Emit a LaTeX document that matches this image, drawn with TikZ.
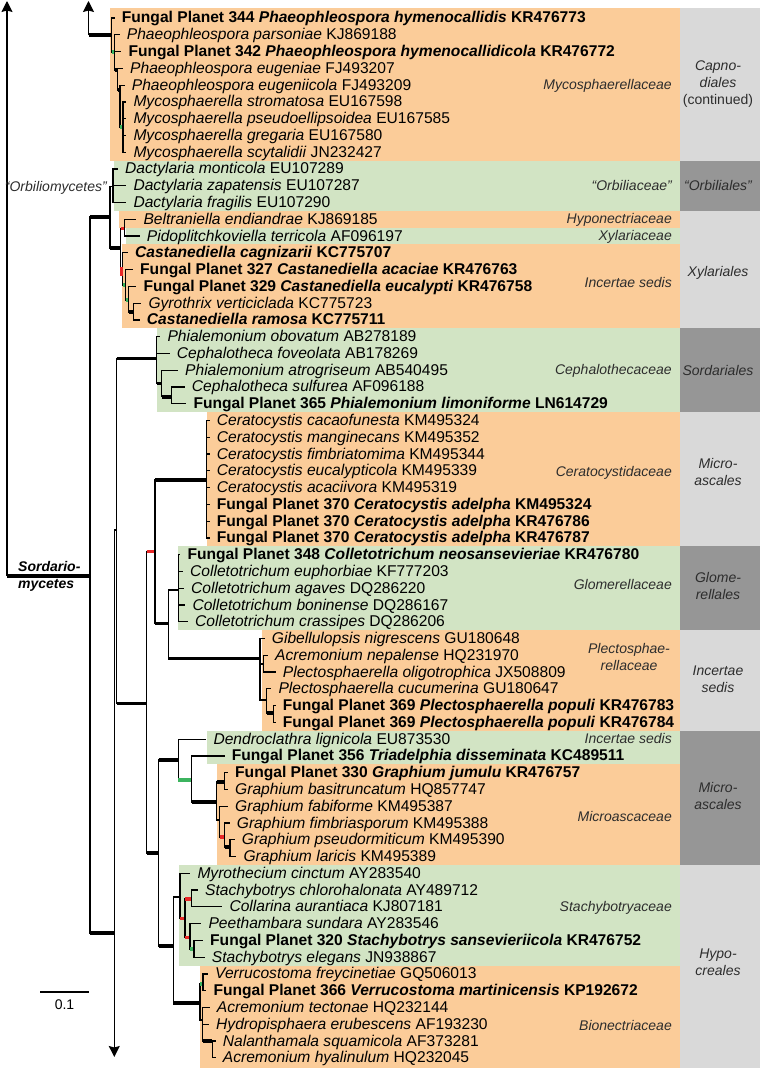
\documentclass[tikz,border=0pt]{standalone}
\usepackage{fontspec}
\setmainfont{Liberation Sans}
\usetikzlibrary{arrows.meta}
\definecolor{orbox}{RGB}{251,204,153}
\definecolor{grbox}{RGB}{210,228,196}
\definecolor{lgrey}{RGB}{217,217,217}
\definecolor{dgrey}{RGB}{150,150,150}
\definecolor{lab}{RGB}{45,45,45}
\definecolor{supred}{RGB}{232,40,40}
\definecolor{supgreen}{RGB}{60,180,95}
\newcommand\spc[2]{\textit{#1} #2}
\newcommand\fp[3]{\textbf{Fungal Planet #1 \textit{#2} #3}}
\newcommand\bi[2]{\textbf{\textit{#1} #2}}
\newcommand\brn[3][br]{\draw[br] (#2) |- (#3); \draw[#1] (#2|-#3) -- (#3);}
\newcommand\tp[2]{\draw[br] (#1) |- ([xshift=-7pt]#2.west);}
\begin{document}
\begin{tikzpicture}[x=1pt,y=-1pt,
 br/.style={line width=1.2pt},
 thk/.style={line width=3.6pt},
 thkred/.style={line width=3.6pt,draw=supred},
 thkgrn/.style={line width=3.6pt,draw=supgreen},
 tipl/.style={anchor=west,inner sep=0pt,font=\fontsize{15.6}{17}\selectfont,text height=12pt,text depth=2pt},
 fam/.style={anchor=east,inner sep=0pt,font=\fontsize{14}{16.7}\selectfont\itshape,text=lab,text height=11pt,text depth=2pt},
 famc/.style={inner sep=0pt,align=center,font=\fontsize{14}{16.7}\selectfont\itshape,text=lab},
 arr/.style={line width=1.2pt,-{Stealth[length=11pt,width=11pt,inset=1.5pt]}}]
\useasboundingbox (0,0) rectangle (760,1068);
% ---------- coloured backgrounds
\fill[orbox] (110,8) rectangle (680,160.6);
\fill[grbox] (114.3,160.6) rectangle (680,210.9);
\fill[orbox] (119,210.9) rectangle (680,227.6);
\fill[grbox] (126,227.6) rectangle (680,244.4);
\fill[orbox] (121.7,244.4) rectangle (680,328.3);
\fill[grbox] (156.7,328.3) rectangle (680,412.1);
\fill[orbox] (206.7,412.1) rectangle (680,546.3);
\fill[grbox] (178.3,546.3) rectangle (680,630.1);
\fill[orbox] (261.7,630.1) rectangle (680,730.7);
\fill[grbox] (206.7,730.7) rectangle (680,764.3);
\fill[orbox] (216.7,764.3) rectangle (680,864.9);
\fill[grbox] (179.3,864.9) rectangle (680,965.5);
\fill[orbox] (200,965.5) rectangle (680,1068);
\fill[lgrey] (680,8) rectangle (760,160.6);
\fill[dgrey] (680,160.6) rectangle (760,210.9);
\fill[lgrey] (680,210.9) rectangle (760,328.3);
\fill[dgrey] (680,328.3) rectangle (760,412.1);
\fill[lgrey] (680,412.1) rectangle (760,546.3);
\fill[dgrey] (680,546.3) rectangle (760,630.1);
\fill[lgrey] (680,630.1) rectangle (760,730.7);
\fill[dgrey] (680,730.7) rectangle (760,864.9);
\fill[lgrey] (680,864.9) rectangle (760,1068);
% ---------- tip labels
\node[tipl] (t1) at (121.7,18.0) {\fp{344}{Phaeophleospora hymenocallidis}{KR476773}};
\node[tipl] (t2) at (126.7,34.8) {\spc{Phaeophleospora parsoniae}{KJ869188}};
\node[tipl] (t3) at (128.3,51.5) {\fp{342}{Phaeophleospora hymenocallidicola}{KR476772}};
\node[tipl] (t4) at (130,68.3) {\spc{Phaeophleospora eugeniae}{FJ493207}};
\node[tipl] (t5) at (131.7,85.1) {\spc{Phaeophleospora eugeniicola}{FJ493209}};
\node[tipl] (t6) at (133.3,101.9) {\spc{Mycosphaerella stromatosa}{EU167598}};
\node[tipl] (t7) at (133.3,118.6) {\spc{Mycosphaerella pseudoellipsoidea}{EU167585}};
\node[tipl] (t8) at (133.3,135.4) {\spc{Mycosphaerella gregaria}{EU167580}};
\node[tipl] (t9) at (133.3,152.2) {\spc{Mycosphaerella scytalidii}{JN232427}};
\node[tipl] (t10) at (125,168.9) {\spc{Dactylaria monticola}{EU107289}};
\node[tipl] (t11) at (133.3,185.7) {\spc{Dactylaria zapatensis}{EU107287}};
\node[tipl] (t12) at (133.3,202.5) {\spc{Dactylaria fragilis}{EU107290}};
\node[tipl] (t13) at (143.3,219.2) {\spc{Beltraniella endiandrae}{KJ869185}};
\node[tipl] (t14) at (146.7,236.0) {\spc{Pidoplitchkoviella terricola}{AF096197}};
\node[tipl] (t15) at (135,252.8) {\bi{Castanediella cagnizarii}{KC775707}};
\node[tipl] (t16) at (140,269.6) {\fp{327}{Castanediella acaciae}{KR476763}};
\node[tipl] (t17) at (143.3,286.3) {\fp{329}{Castanediella eucalypti}{KR476758}};
\node[tipl] (t18) at (148.3,303.1) {\spc{Gyrothrix verticiclada}{KC775723}};
\node[tipl] (t19) at (146.7,319.9) {\bi{Castanediella ramosa}{KC775711}};
\node[tipl] (t20) at (167.3,336.6) {\spc{Phialemonium obovatum}{AB278189}};
\node[tipl] (t21) at (176.7,353.4) {\spc{Cephalotheca foveolata}{AB178269}};
\node[tipl] (t22) at (185,370.2) {\spc{Phialemonium atrogriseum}{AB540495}};
\node[tipl] (t23) at (191.7,386.9) {\spc{Cephalotheca sulfurea}{AF096188}};
\node[tipl] (t24) at (193.3,403.7) {\fp{365}{Phialemonium limoniforme}{LN614729}};
\node[tipl] (t25) at (216.7,420.5) {\spc{Ceratocystis cacaofunesta}{KM495324}};
\node[tipl] (t26) at (216.7,437.3) {\spc{Ceratocystis manginecans}{KM495352}};
\node[tipl] (t27) at (216.7,454.0) {\spc{Ceratocystis fimbriatomima}{KM495344}};
\node[tipl] (t28) at (216.7,470.8) {\spc{Ceratocystis eucalypticola}{KM495339}};
\node[tipl] (t29) at (216.7,487.6) {\spc{Ceratocystis acaciivora}{KM495319}};
\node[tipl] (t30) at (216.7,504.3) {\fp{370}{Ceratocystis adelpha}{KM495324}};
\node[tipl] (t31) at (216.7,521.1) {\fp{370}{Ceratocystis adelpha}{KR476786}};
\node[tipl] (t32) at (216.7,537.9) {\fp{370}{Ceratocystis adelpha}{KR476787}};
\node[tipl] (t33) at (187.3,554.6) {\fp{348}{Colletotrichum neosansevieriae}{KR476780}};
\node[tipl] (t34) at (190,571.4) {\spc{Colletotrichum euphorbiae}{KF777203}};
\node[tipl] (t35) at (191,588.2) {\spc{Colletotrichum agaves}{DQ286220}};
\node[tipl] (t36) at (192.3,605.0) {\spc{Colletotrichum boninense}{DQ286167}};
\node[tipl] (t37) at (195,621.7) {\spc{Colletotrichum crassipes}{DQ286206}};
\node[tipl] (t38) at (271.7,638.5) {\spc{Gibellulopsis nigrescens}{GU180648}};
\node[tipl] (t39) at (275,655.3) {\spc{Acremonium nepalense}{HQ231970}};
\node[tipl] (t40) at (282.7,672.0) {\spc{Plectosphaerella oligotrophica}{JX508809}};
\node[tipl] (t41) at (278.3,688.8) {\spc{Plectosphaerella cucumerina}{GU180647}};
\node[tipl] (t42) at (282.7,705.6) {\fp{369}{Plectosphaerella populi}{KR476783}};
\node[tipl] (t43) at (282.7,722.3) {\fp{369}{Plectosphaerella populi}{KR476784}};
\node[tipl] (t44) at (213.3,739.1) {\spc{Dendroclathra lignicola}{EU873530}};
\node[tipl] (t45) at (231.7,755.9) {\fp{356}{Triadelphia disseminata}{KC489511}};
\node[tipl] (t46) at (235,772.7) {\fp{330}{Graphium jumulu}{KR476757}};
\node[tipl] (t47) at (235,789.4) {\spc{Graphium basitruncatum}{HQ857747}};
\node[tipl] (t48) at (235,806.2) {\spc{Graphium fabiforme}{KM495387}};
\node[tipl] (t49) at (236.7,823.0) {\spc{Graphium fimbriasporum}{KM495388}};
\node[tipl] (t50) at (241.7,839.7) {\spc{Graphium pseudormiticum}{KM495390}};
\node[tipl] (t51) at (243.3,856.5) {\spc{Graphium laricis}{KM495389}};
\node[tipl] (t52) at (197.3,873.3) {\spc{Myrothecium cinctum}{AY283540}};
\node[tipl] (t53) at (205,890.0) {\spc{Stachybotrys chlorohalonata}{AY489712}};
\node[tipl] (t54) at (229.3,906.8) {\spc{Collarina aurantiaca}{KJ807181}};
\node[tipl] (t55) at (208.3,923.6) {\spc{Peethambara sundara}{AY283546}};
\node[tipl] (t56) at (210,940.3) {\fp{320}{Stachybotrys sansevieriicola}{KR476752}};
\node[tipl] (t57) at (211.7,957.1) {\spc{Stachybotrys elegans}{JN938867}};
\node[tipl] (t58) at (215,973.9) {\spc{Verrucostoma freycinetiae}{GQ506013}};
\node[tipl] (t59) at (213.3,990.7) {\fp{366}{Verrucostoma martinicensis}{KP192672}};
\node[tipl] (t60) at (216.7,1007.4) {\spc{Acremonium tectonae}{HQ232144}};
\node[tipl] (t61) at (216,1024.2) {\spc{Hydropisphaera erubescens}{AF193230}};
\node[tipl] (t62) at (222.7,1041.0) {\spc{Nalanthamala squamicola}{AF373281}};
\node[tipl] (t63) at (222.7,1057.7) {\spc{Acremonium hyalinulum}{HQ232045}};
% ---------- internal nodes
\coordinate (topL) at (7,1);
\coordinate (R0) at (7,576);
\coordinate (A) at (90,576);
\coordinate (topM) at (88.5,1);
\coordinate (M0) at (88.5,35);
\coordinate (M1) at (111.7,35);
\coordinate (M2) at (114.5,52);
\coordinate (M3) at (117.5,70);
\coordinate (M4) at (120,90);
\coordinate (M5) at (123,127);
\coordinate (OX) at (110,217);
\coordinate (Orb) at (113,186.5);
\coordinate (X) at (120.7,248);
\coordinate (XA) at (124.5,228.5);
\coordinate (XB) at (122.5,272);
\coordinate (XC) at (125.5,285);
\coordinate (XD) at (128.5,300);
\coordinate (XE) at (133.3,312);
\coordinate (B) at (114.3,933);
\coordinate (botB) at (114.3,1057);
\coordinate (K) at (116.7,530);
\coordinate (Ceph) at (156.7,358.3);
\coordinate (Ceph2) at (161.7,383.3);
\coordinate (Ceph3) at (171.7,396.7);
\coordinate (N) at (146.7,703.3);
\coordinate (Q) at (155,551.5);
\coordinate (Cer) at (206.7,480);
\coordinate (Q2) at (168.3,623.3);
\coordinate (Glom) at (178.3,590);
\coordinate (P) at (260,658.3);
\coordinate (P2) at (263.3,664);
\coordinate (P3) at (266.7,700);
\coordinate (P4) at (273.3,713);
\coordinate (M) at (158.5,853);
\coordinate (MA) at (178.3,760);
\coordinate (MB) at (191.7,780);
\coordinate (G) at (216.7,802);
\coordinate (G1) at (224.5,781.7);
\coordinate (G2) at (219.5,820);
\coordinate (G3) at (224.5,837);
\coordinate (G4) at (230,847);
\coordinate (H) at (173.3,946);
\coordinate (S) at (180,897);
\coordinate (S1) at (185,918.5);
\coordinate (C1) at (191.7,899);
\coordinate (C2) at (190,937.5);
\coordinate (C3) at (194,949);
\coordinate (Bn) at (200,1003);
\coordinate (B1) at (203,984);
\coordinate (B2) at (202.5,1020);
\coordinate (B3) at (212.3,1041);
% ---------- tree
\draw[arr] (R0) -- (topL);
\draw[thk] (R0) -- (A);
\draw[arr] (M0) -- (topM);
\draw[thk] (M0) -- (M1);
\draw[arr] (B) -- (botB);
% Mycosphaerellaceae
\tp{M1}{t1} \brn[thkgrn]{M1}{M2}
\tp{M2}{t2} \tp{M2}{t3} \brn[thk]{M2}{M3}
\tp{M3}{t4} \brn[thk]{M3}{M4}
\tp{M4}{t5} \brn[thkgrn]{M4}{M5}
\tp{M5}{t6} \tp{M5}{t7} \tp{M5}{t8} \tp{M5}{t9}
% Orbiliomycetes + Xylariales
\brn[thk]{A}{OX}
\brn{OX}{Orb}
\tp{Orb}{t10} \tp{Orb}{t11} \tp{Orb}{t12}
\brn[thk]{OX}{X}
\brn[thkred]{X}{XA}
\tp{XA}{t13} \tp{XA}{t14}
\brn{X}{XB}
\tp{XB}{t15} \brn[thkgrn]{XB}{XC}
\tp{XC}{t16} \brn[thkgrn]{XC}{XD}
\tp{XD}{t17} \brn[thk]{XD}{XE}
\tp{XE}{t18} \tp{XE}{t19}
\fill[supred] (119.8,266.5) rectangle (122.8,276);
% Sordariomycetes
\brn[thk]{A}{B}
\brn{B}{K}
\brn[thk]{K}{Ceph}
\tp{Ceph}{t20} \tp{Ceph}{t21} \brn[thk]{Ceph}{Ceph2}
\tp{Ceph2}{t22} \brn[thk]{Ceph2}{Ceph3}
\tp{Ceph3}{t23} \tp{Ceph3}{t24}
\brn[thk]{K}{N}
\brn[thkred]{N}{Q}
\brn[thk]{Q}{Cer}
\tp{Cer}{t25} \tp{Cer}{t26} \tp{Cer}{t27} \tp{Cer}{t28}
\tp{Cer}{t29} \tp{Cer}{t30} \tp{Cer}{t31} \tp{Cer}{t32}
\brn[thk]{Q}{Q2}
\brn{Q2}{Glom}
\tp{Glom}{t33} \tp{Glom}{t34} \tp{Glom}{t35} \tp{Glom}{t36} \tp{Glom}{t37}
\brn[thk]{Q2}{P}
\tp{P}{t38} \brn{P}{P2} \brn{P}{P3}
\tp{P2}{t39} \tp{P2}{t40}
\tp{P3}{t41} \brn[thk]{P3}{P4}
\tp{P4}{t42} \tp{P4}{t43}
\brn[thk]{N}{M}
\brn[thk]{M}{MA}
\tp{MA}{t44} \brn[thkgrn]{MA}{MB}
\tp{MB}{t45} \brn[thk]{MB}{G}
\brn[thk]{G}{G1} \tp{G1}{t46} \tp{G1}{t47}
\brn{G}{G2} \tp{G2}{t48} \brn[thkred]{G2}{G3}
\tp{G3}{t49} \brn[thk]{G3}{G4}
\tp{G4}{t50} \tp{G4}{t51}
\brn[thk]{M}{H}
\brn{H}{S}
\tp{S}{t52} \brn[thkred]{S}{S1}
\brn[thkred]{S1}{C1} \brn[thkred]{S1}{C2}
\tp{C1}{t53} \tp{C1}{t54}
\tp{C2}{t55} \brn[thkgrn]{C2}{C3}
\tp{C3}{t56} \tp{C3}{t57}
\brn[thk]{H}{Bn}
\brn[thkgrn]{Bn}{B1} \tp{B1}{t58} \tp{B1}{t59}
\brn{Bn}{B2} \tp{B2}{t60} \tp{B2}{t61} \brn[thk]{B2}{B3}
\tp{B3}{t62} \tp{B3}{t63}
% ---------- clade labels
\node[anchor=east,inner sep=0pt,font=\fontsize{14}{16}\selectfont\itshape,text=lab,text height=11pt,text depth=2pt] (orbm) at (107,186.5) {“Orbiliomycetes”};
\node[anchor=west,inner sep=0pt,font=\fontsize{14}{16}\selectfont\bfseries\itshape,text height=11pt,text depth=2pt] (sord1) at (18,566.5) {Sordario-};
\node[anchor=west,inner sep=0pt,font=\fontsize{14}{16}\selectfont\bfseries\itshape,text height=11pt,text depth=2pt] (sord2) at (18,584) {mycetes};
% scale bar
\coordinate (sb1) at (40,992);
\coordinate (sb2) at (89,992);
\draw[br] (sb1) -- (sb2);
\node[inner sep=0pt,font=\fontsize{14}{16}\selectfont] (sbl) at (64.5,1004.5) {0.1};
% ---------- family labels
\node[fam] (f1) at (672,85) {Mycosphaerellaceae};
\node[fam] (f2) at (672,185.7) {“Orbiliaceae”};
\node[fam] (f3) at (672,219.2) {Hyponectriaceae};
\node[fam] (f4) at (672,236) {Xylariaceae};
\node[fam] (f5) at (672,283) {Incertae sedis};
\node[fam] (f6) at (672,370) {Cephalothecaceae};
\node[fam] (f7) at (672,471.7) {Ceratocystidaceae};
\node[fam] (f8) at (672,585) {Glomerellaceae};
\node[famc] (f9) at (629,657) {Plectosphae-\\rellaceae};
\node[fam] (f10) at (672,739.1) {Incertae sedis};
\node[fam] (f11) at (672,816.7) {Microascaceae};
\node[fam] (f12) at (672,906.7) {Stachybotryaceae};
\node[fam] (f13) at (672,1025.7) {Bionectriaceae};
% ---------- order labels
\node[famc] (o1) at (718,84) {Capno-\\diales\\\upshape(continued)};
\node[famc] (o2) at (718,185.7) {“Orbiliales”};
\node[famc] (o3) at (718,273) {Xylariales};
\node[famc] (o4) at (718,370) {Sordariales};
\node[famc] (o5) at (718,472) {Micro-\\ascales};
\node[famc] (o6) at (718,586) {Glome-\\rellales};
\node[famc] (o7) at (718,679) {Incertae\\sedis};
\node[famc] (o8) at (718,796) {Micro-\\ascales};
\node[famc] (o9) at (718,962) {Hypo-\\creales};
\end{tikzpicture}
\end{document}
